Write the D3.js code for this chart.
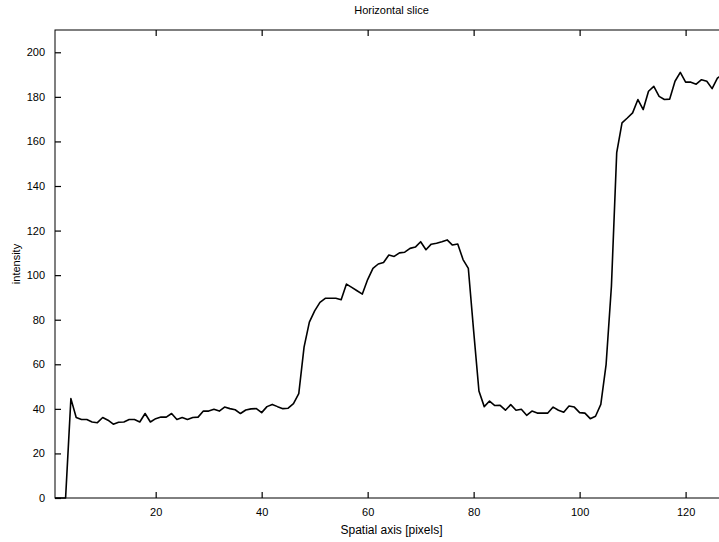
<!DOCTYPE html>
<html>
<head>
<meta charset="utf-8">
<script src="https://d3js.org/d3.v7.min.js"></script>
<style>
body { margin: 0; background: #fff; }
svg { display: block; }
text { font-family: "Liberation Sans", Arial, sans-serif; fill: #000; }
</style>
</head>
<body>
<svg id="chart" width="719" height="542"></svg>
<script>
// pixel positions along the slice
var pixels = d3.range(1, 128);
// intensity, one per pixel
var intensity = [
  0, 0, 0, 44.6, 36.1, 35.2, 35.2, 34.1, 33.8, 36.1,
  34.9, 33.1, 34, 34.1, 35.2, 35.2, 34.1, 37.9, 34.1, 35.6,
  36.3, 36.3, 37.9, 35.2, 36.1, 35.2, 36.1, 36.3, 39, 39,
  39.8, 39, 40.8, 40.1, 39.6, 37.9, 39.5, 40, 40.1, 38.3,
  41, 42, 41, 40.1, 40.3, 42.3, 46.8, 67.7, 78.9, 84,
  87.8, 89.6, 89.6, 89.6, 89, 96, 94.5, 93, 91.5, 98,
  103, 105, 105.7, 109, 108.4, 110, 110.3, 112, 112.6, 115,
  111.4, 113.9, 114.3, 115, 115.8, 113.5, 114, 107, 103, 75,
  48, 41, 43.5, 41.5, 41.6, 39.4, 41.9, 39.4, 39.8, 37.1,
  39, 38.1, 38.1, 38.1, 40.8, 39.4, 38.5, 41.3, 40.8, 38.3,
  38.1, 35.6, 36.7, 42, 60, 95, 155, 168.3, 170.5, 172.8,
  178.8, 174.3, 182.5, 184.7, 180.2, 178.8, 179, 187, 191, 186.6,
  186.6, 185.7, 187.7, 187, 183.7, 188.4, 190.2
];
var xTicks = [20, 40, 60, 80, 100, 120];
var yTicks = [0, 20, 40, 60, 80, 100, 120, 140, 160, 180, 200];

var title = "Horizontal slice";
var xLabel = "Spatial axis [pixels]";
var yLabel = "intensity";

var svg = d3.select("#chart");
var plotL = 55, plotT = 30, plotR = 728, plotB = 498;

var x = d3.scaleLinear().domain([1, 128]).range([plotL, plotR]);
var y = d3.scaleLinear().domain([0, 210]).range([plotB, plotT]);

// frame
svg.append("rect")
  .attr("x", plotL).attr("y", plotT)
  .attr("width", plotR - plotL).attr("height", plotB - plotT)
  .attr("fill", "none").attr("stroke", "#000").attr("stroke-width", 1);

// axes with inward ticks
var gx = svg.append("g").attr("transform", "translate(0," + plotB + ")")
  .call(d3.axisBottom(x).tickValues(xTicks).tickSizeInner(-6).tickSizeOuter(0).tickPadding(10));
var gxt = svg.append("g").attr("transform", "translate(0," + plotT + ")")
  .call(d3.axisTop(x).tickValues(xTicks).tickSizeInner(-6).tickSizeOuter(0).tickFormat(""));
var gy = svg.append("g").attr("transform", "translate(" + plotL + ",0)")
  .call(d3.axisLeft(y).tickValues(yTicks).tickSizeInner(-6).tickSizeOuter(0).tickPadding(10));

[gx, gxt, gy].forEach(function (g) {
  g.select(".domain").remove();
  g.selectAll(".tick line").attr("stroke", "#000").attr("stroke-width", 1.2);
  g.selectAll(".tick text").attr("fill", "#000").style("font-size", "11px")
    .style("font-family", "Liberation Sans, Arial, sans-serif");
});

// data line
var line = d3.line()
  .x(function (d, i) { return x(pixels[i]); })
  .y(function (d) { return y(d); });

svg.append("path")
  .datum(intensity)
  .attr("d", line)
  .attr("fill", "none")
  .attr("stroke", "#000")
  .attr("stroke-width", 1.6)
  .attr("stroke-linejoin", "round");

// labels
svg.append("text")
  .attr("x", (plotL + plotR) / 2).attr("y", 14)
  .attr("text-anchor", "middle").style("font-size", "11px")
  .text(title);

svg.append("text")
  .attr("x", (plotL + plotR) / 2).attr("y", 534)
  .attr("text-anchor", "middle").style("font-size", "12px")
  .text(xLabel);

svg.append("text")
  .attr("transform", "translate(20," + ((plotT + plotB) / 2) + ") rotate(-90)")
  .attr("text-anchor", "middle").style("font-size", "11px")
  .text(yLabel);
</script>
</body>
</html>
